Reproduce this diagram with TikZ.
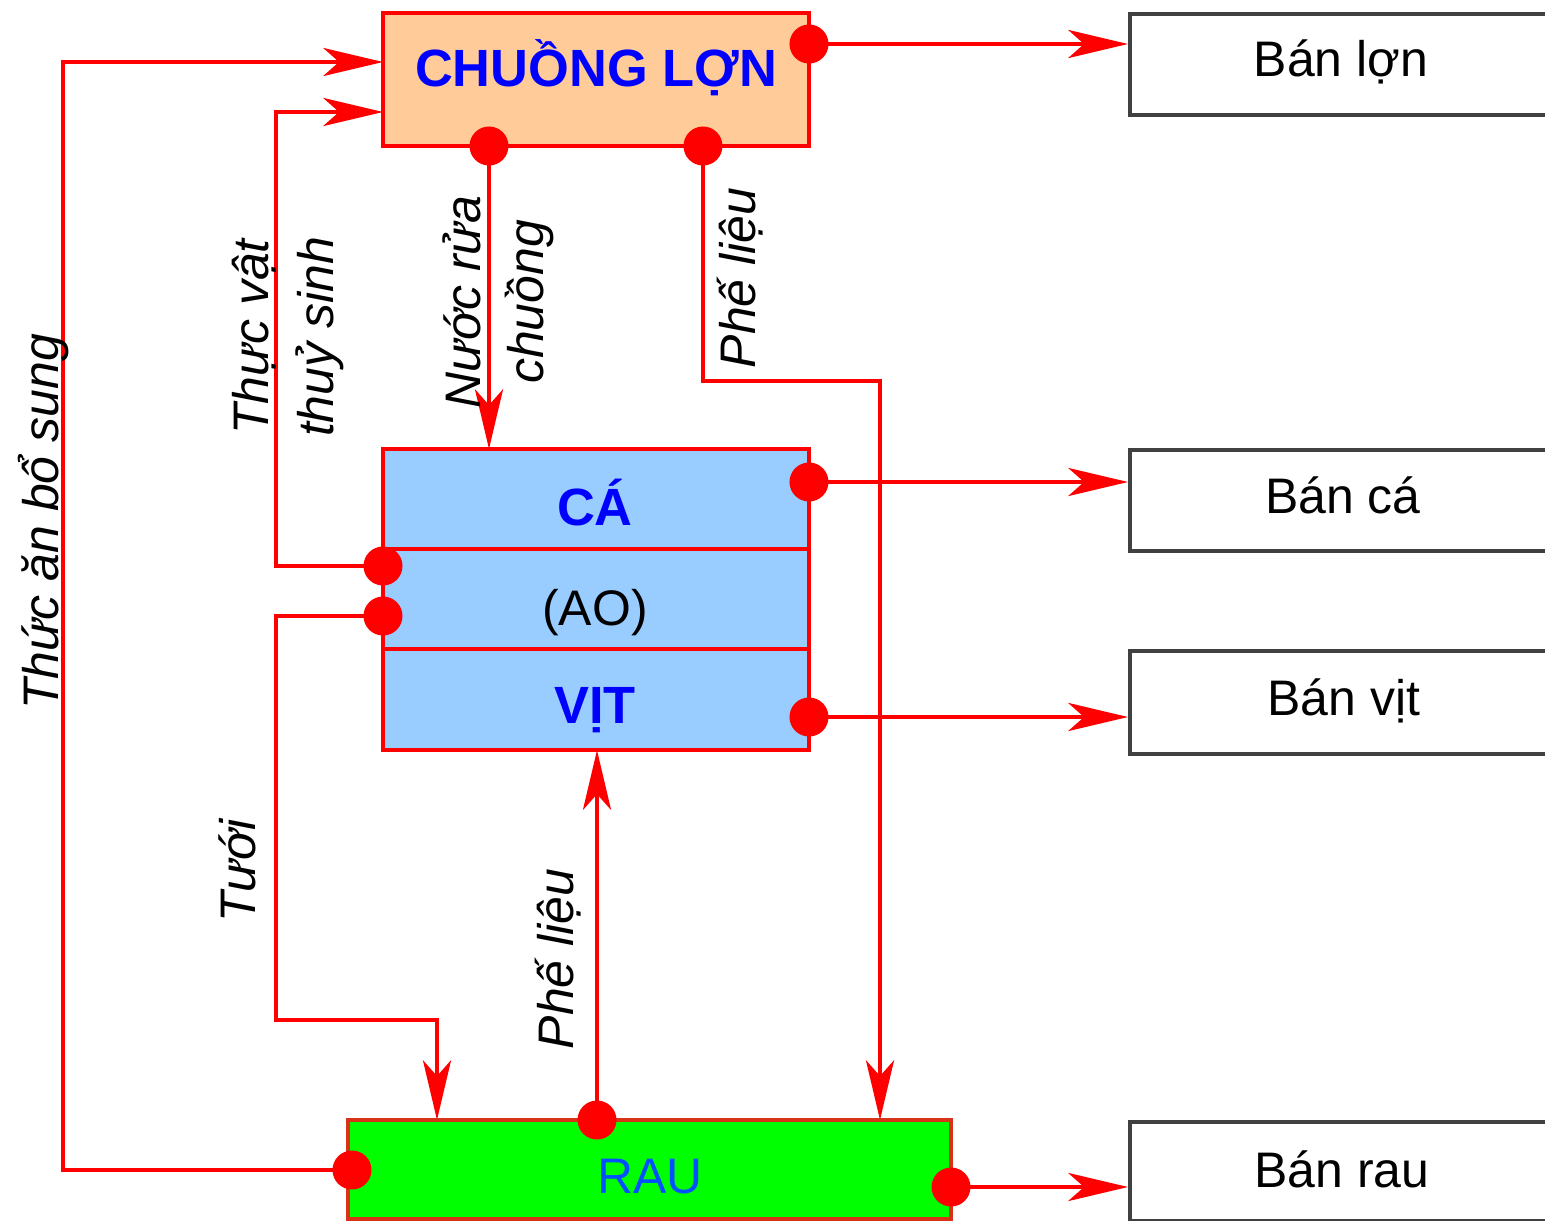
\documentclass[tikz,border=0pt]{standalone}
\usepackage{fontspec}
\setmainfont{Liberation Sans}
\usetikzlibrary{positioning,arrows.meta,backgrounds}
\definecolor{peach}{HTML}{FFCC99}
\definecolor{pondblue}{HTML}{99CCFF}
\definecolor{leafgreen}{HTML}{00FF00}
\definecolor{textblue}{HTML}{0000FF}
\definecolor{raublue}{HTML}{0050FF}
\definecolor{raurim}{HTML}{D83218}
\definecolor{boxgray}{HTML}{404040}

\begin{document}
\begin{tikzpicture}[
    x=0.01cm, y=-0.01cm,
    >={Stealth[length=17pt,width=8pt,inset=4.5pt]},
    every node/.style={font=\fontsize{14.2}{17}\selectfont, inner sep=0pt},
    farm/.style={draw=red, line width=1.1pt, outer sep=0pt, anchor=north west, minimum width=4.26cm, minimum height=1cm},
    sale/.style={draw=boxgray, line width=1.2pt, fill=white, anchor=north west, minimum width=4.6cm, minimum height=1.01cm},
    dot/.style={circle, fill=red, minimum size=0.39cm},
    flow/.style={draw=red, line width=0.9pt},
    title/.style={font=\fontsize{14.9}{17}\selectfont\bfseries, text=textblue, anchor=base},
    plain/.style={anchor=base},
    side/.style={font=\fontsize{14.2}{17}\selectfont\itshape, rotate=90, anchor=base}
]
\useasboundingbox (0,0) rectangle (1545,1221);
\clip (0,0) rectangle (1545,1221);

\node[farm, fill=peach, minimum height=1.33cm] (chuong) at (383,13) {};
\node[farm, fill=pondblue] (ca) at (383,449) {};
\node[farm, fill=pondblue, below=0pt of ca] (ao) {};
\node[farm, fill=pondblue, below=0pt of ao, minimum height=1.01cm] (vit) {};
\node[farm, draw=raurim, fill=leafgreen, minimum width=6.03cm, minimum height=0.99cm] (rau) at (348,1120) {};

\node[sale] (banLon) at (1128,12) {};
\node[sale] (banCa) at (1128,448) {};
\node[sale, minimum height=1.03cm] (banVit) at (1128,649) {};
\node[sale, minimum height=0.99cm] (banRau) at (1128,1120) {};

\node[title] (tChuong) at (596,87) {CHUỒNG LỢN};
\node[title] (tCa) at (595,525) {CÁ};
\node[plain] (tAo) at (595,625) {(AO)};
\node[title] (tVit) at (595,723) {VỊT};
\node[plain, text=raublue] (tRau) at (650,1193) {RAU};
\node[plain] (tBanLon) at (1341,77) {Bán lợn};
\node[plain] (tBanCa) at (1343,513) {Bán cá};
\node[plain] (tBanVit) at (1344,715) {Bán vịt};
\node[plain] (tBanRau) at (1342,1187) {Bán rau};

\node[side] (lFeed) at (58,522) {Thức ăn bổ sung};
\node[side] (lPlantA) at (268,337) {Thực vật};
\node[side] (lPlantB) at (333,337) {thuỷ sinh};
\node[side] (lWashA) at (480,302) {Nước rửa};
\node[side] (lWashB) at (543,302) {chuồng};
\node[side] (lWasteA) at (755,278) {Phế liệu};
\node[side] (lWater) at (255,871) {Tưới};
\node[side] (lWasteB) at (573,959) {Phế liệu};

\node[dot] (dLonR) at (809,44) {};
\node[dot] (dLonA) at (489,146) {};
\node[dot] (dLonB) at (703,146) {};
\node[dot] (dCa) at (809,482) {};
\node[dot] (dVit) at (809,717) {};
\node[dot] (dAoA) at (383,566) {};
\node[dot] (dAoB) at (383,616) {};
\node[dot] (dRauL) at (352,1170) {};
\node[dot] (dRauT) at (597,1120) {};
\node[dot] (dRauR) at (951,1187) {};

\coordinate (kFeed) at (63,62);
\coordinate (kPlant) at (276,112);
\coordinate (kWaste) at (880,381);
\coordinate (kWaterA) at (276,1020);
\coordinate (kWaterB) at (437,1020);

\begin{scope}[on background layer]
\draw[flow, ->] (dRauL.center) -| (kFeed) -- (kFeed -| chuong.west);
\draw[flow, ->] (dAoA.center) -| (kPlant) -- (kPlant -| chuong.west);
\draw[flow, ->] (dLonA.center) -- (dLonA.center |- ca.north);
\draw[flow, ->] (dLonB.center) |- (kWaste) -- (kWaste |- rau.north);
\draw[flow, ->] (dAoB.center) -| (kWaterA) -- (kWaterB) -- (kWaterB |- rau.north);
\draw[flow, ->] (dRauT.center) -- (dRauT.center |- vit.south);
\draw[flow, ->] (dLonR.center) -- (dLonR.center -| banLon.west);
\draw[flow, ->] (dCa.center) -- (dCa.center -| banCa.west);
\draw[flow, ->] (dVit.center) -- (dVit.center -| banVit.west);
\draw[flow, ->] (dRauR.center) -- (dRauR.center -| banRau.west);
\end{scope}
\end{tikzpicture}
\end{document}
